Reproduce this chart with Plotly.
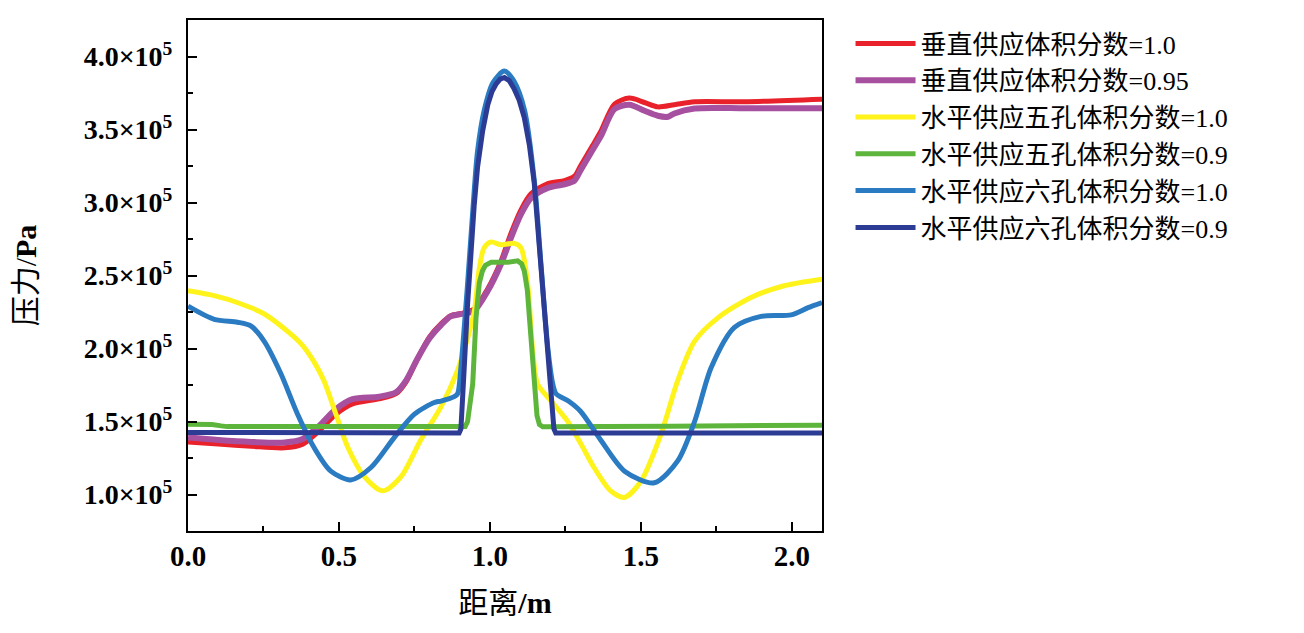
import plotly.graph_objects as go

# ---------------- data (pressure in units of 1e5 Pa) ----------------
names = [
    "垂直供应体积分数=1.0",
    "垂直供应体积分数=0.95",
    "水平供应五孔体积分数=1.0",
    "水平供应五孔体积分数=0.9",
    "水平供应六孔体积分数=1.0",
    "水平供应六孔体积分数=0.9",
]

red_x = [0.0, 0.10, 0.21, 0.32, 0.38, 0.434, 0.49, 0.545, 0.633, 0.689, 0.722, 0.76, 0.80, 0.838, 0.87, 0.904,
         0.948, 0.993, 1.037, 1.07, 1.103, 1.136, 1.192, 1.247, 1.28, 1.30, 1.34, 1.368, 1.413, 1.462, 1.512,
         1.556, 1.611, 1.678, 1.843, 2.1]
red_y = [1.36, 1.345, 1.33, 1.32, 1.345, 1.436, 1.55, 1.62, 1.655, 1.69, 1.77, 1.93, 2.08, 2.17, 2.225, 2.24,
         2.27, 2.41, 2.60, 2.79, 2.95, 3.06, 3.13, 3.15, 3.18, 3.25, 3.39, 3.49, 3.674, 3.715, 3.685,
         3.655, 3.67, 3.69, 3.69, 3.708]

purple_x = [0.0, 0.10, 0.21, 0.32, 0.38, 0.434, 0.49, 0.545, 0.633, 0.689, 0.722, 0.76, 0.80, 0.838, 0.87, 0.904,
            0.948, 0.993, 1.037, 1.07, 1.103, 1.136, 1.192, 1.247, 1.28, 1.30, 1.34, 1.368, 1.413, 1.462, 1.512,
            1.556, 1.59, 1.611, 1.678, 1.85, 2.1]
purple_y = [1.39, 1.373, 1.36, 1.356, 1.38, 1.47, 1.585, 1.653, 1.67, 1.70, 1.78, 1.93, 2.07, 2.16, 2.22, 2.235,
            2.26, 2.395, 2.58, 2.76, 2.92, 3.03, 3.10, 3.125, 3.15, 3.22, 3.36, 3.457, 3.64, 3.67, 3.628,
            3.594, 3.587, 3.61, 3.644, 3.645, 3.645]

yellow_x = [0.0, 0.09, 0.17, 0.25, 0.34, 0.38, 0.42, 0.45, 0.49, 0.53, 0.585, 0.645, 0.705, 0.77, 0.838, 0.893,
            0.926, 0.948, 0.965, 0.981, 1.004, 1.037, 1.081, 1.103, 1.125, 1.142, 1.158, 1.203, 1.258, 1.302,
            1.345, 1.40, 1.446, 1.50, 1.567, 1.622, 1.678, 1.755, 1.865, 1.975, 2.1]
yellow_y = [2.395, 2.36, 2.31, 2.24, 2.10, 2.02, 1.90, 1.78, 1.55, 1.32, 1.12, 1.025, 1.12, 1.37, 1.60, 1.85,
            2.07, 2.25, 2.55, 2.69, 2.73, 2.71, 2.72, 2.69, 2.44, 1.98, 1.756, 1.64, 1.50, 1.345,
            1.185, 1.025, 0.98, 1.09, 1.415, 1.78, 2.05, 2.21, 2.35, 2.43, 2.475]

green_x = [0.0, 0.08, 0.11, 0.13, 0.5, 0.918, 0.926, 0.934, 0.943, 0.954, 0.965, 0.975, 0.985, 1.004, 1.059,
           1.092, 1.105, 1.114, 1.124, 1.131, 1.147, 1.156, 1.164, 1.175, 1.6, 2.1]
green_y = [1.482, 1.48, 1.47, 1.465, 1.465, 1.465, 1.50, 1.60, 1.756, 2.21, 2.45, 2.53, 2.57, 2.59, 2.59,
           2.60, 2.58, 2.53, 2.40, 2.21, 1.756, 1.54, 1.48, 1.464, 1.468, 1.475]

blue_x = [0.0, 0.087, 0.164, 0.208, 0.252, 0.307, 0.363, 0.418, 0.473, 0.539, 0.606, 0.683, 0.75, 0.816, 0.838,
          0.882, 0.893, 0.904, 0.926, 0.948, 0.959, 0.981, 1.01, 1.048, 1.08, 1.115, 1.147, 1.169, 1.192, 1.208,
          1.219, 1.26, 1.30, 1.368, 1.446, 1.545, 1.622, 1.678, 1.733, 1.81, 1.898, 1.998, 2.054, 2.1]
blue_y = [2.29, 2.20, 2.18, 2.155, 2.05, 1.83, 1.55, 1.32, 1.16, 1.10, 1.185, 1.39, 1.55, 1.63, 1.64,
          1.67, 1.69, 1.87, 2.44, 3.08, 3.35, 3.63, 3.82, 3.90, 3.83, 3.63, 3.15, 2.58, 2.0, 1.76,
          1.69, 1.64, 1.57, 1.37, 1.16, 1.08, 1.23, 1.50, 1.87, 2.145, 2.22, 2.23, 2.28, 2.315]

navy_x = [0.0, 0.5, 0.898, 0.904, 0.91, 0.915, 0.926, 0.937, 0.948, 0.959, 0.976, 0.993, 1.007, 1.02, 1.034,
          1.048, 1.064, 1.08, 1.097, 1.114, 1.131, 1.147, 1.169, 1.192, 1.203, 1.208, 1.212, 1.218, 1.6, 2.1]
navy_y = [1.425, 1.422, 1.422, 1.45, 1.62, 1.87, 2.30, 2.67, 2.98, 3.24, 3.49, 3.67, 3.76, 3.81, 3.845,
          3.856, 3.835, 3.78, 3.70, 3.58, 3.39, 3.13, 2.555, 1.98, 1.72, 1.55, 1.45, 1.422, 1.422, 1.422]

x_tick_vals = [0.0, 0.5, 1.0, 1.5, 2.0]
y_tick_vals = [1.0, 1.5, 2.0, 2.5, 3.0, 3.5, 4.0]
y_tick_text = ["%.1f×10<sup>5</sup>" % v for v in y_tick_vals]

SCALE = 1e5
series = [
    (red_x, red_y, "#e8212b", 5, "spline"),
    (purple_x, purple_y, "#a6509f", 6, "spline"),
    (yellow_x, yellow_y, "#fff31c", 5, "spline"),
    (green_x, green_y, "#5db53b", 5, "linear"),
    (blue_x, blue_y, "#2a7bc2", 5, "spline"),
    (navy_x, navy_y, "#2c3c95", 5, "linear"),
]

fig = go.Figure()
for name, (xs, ys, color, w, shp) in zip(names, series):
    line = dict(color=color, width=w, shape=shp)
    if shp == "spline":
        line["smoothing"] = 0.8
    fig.add_trace(go.Scatter(
        x=xs, y=[v * SCALE for v in ys], name=name, mode="lines", line=line,
    ))

serif = "Liberation Serif, Noto Sans CJK SC, serif"
fig.update_layout(
    width=1304, height=633,
    margin=dict(l=180, r=490, t=12, b=110, autoexpand=False),
    paper_bgcolor="white", plot_bgcolor="white",
    font=dict(family=serif, color="black"),
    showlegend=True,
    legend=dict(
        x=1.045, xanchor="left", y=1.0, yanchor="top",
        font=dict(family=serif, size=26, color="black"),
        itemwidth=60, bgcolor="rgba(0,0,0,0)", tracegroupgap=0,
    ),
)
fig.update_xaxes(
    range=[0, 2.1], showgrid=False, zeroline=False,
    showline=True, linecolor="black", linewidth=2, mirror=True,
    ticks="inside", ticklen=9, tickwidth=2, tickcolor="black",
    tickvals=x_tick_vals, tickformat=".1f",
    tickfont=dict(family=serif, size=29, weight="bold"),
    ticklabelstandoff=-2,
    minor=dict(dtick=0.25, tick0=0, ticks="inside", ticklen=5, tickwidth=2, tickcolor="black"),
    title=dict(text="距离<b>/m</b>", font=dict(family=serif, size=30), standoff=21),
)
fig.update_yaxes(
    range=[0.75e5, 4.25e5], showgrid=False, zeroline=False,
    showline=True, linecolor="black", linewidth=2, mirror=True,
    ticks="inside", ticklen=9, tickwidth=2, tickcolor="black",
    tickvals=[v * SCALE for v in y_tick_vals], ticktext=y_tick_text,
    tickfont=dict(family=serif, size=28, weight="bold"),
    ticklabelstandoff=8,
    minor=dict(dtick=0.25e5, tick0=0, ticks="inside", ticklen=5, tickwidth=2, tickcolor="black"),
    title=dict(text="压力/<b>Pa</b>", font=dict(family=serif, size=30), standoff=38),
)

fig.write_html("out.html")
